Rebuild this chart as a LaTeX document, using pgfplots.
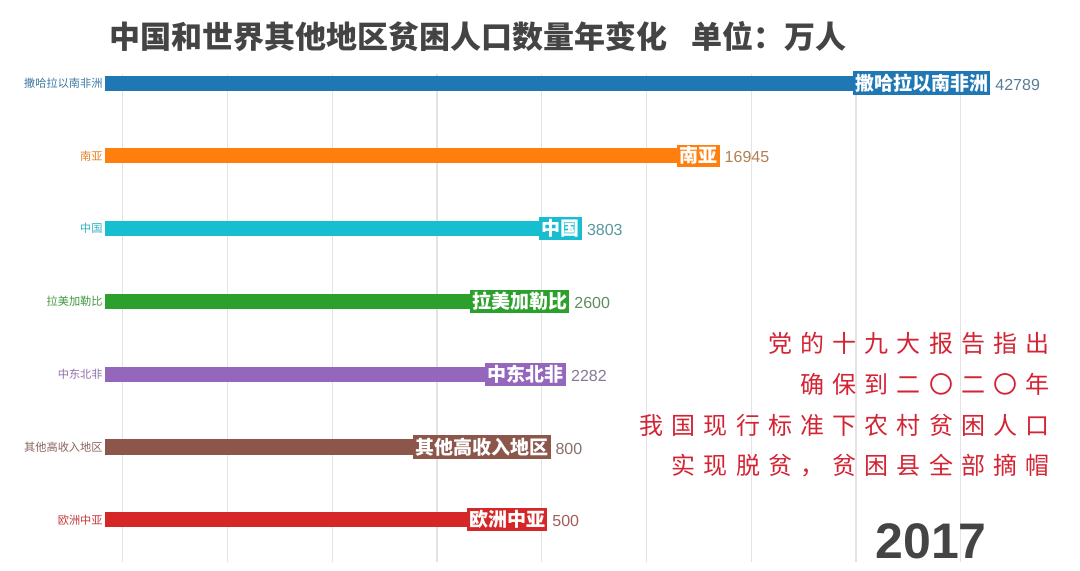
\documentclass[border=0pt]{standalone}
\usepackage{fontspec}
\setmainfont{Noto Sans CJK SC}
\newfontfamily\valfont{Liberation Sans}
\newfontfamily\yearfont{Liberation Sans}
\newfontfamily\redfont{Noto Sans CJK SC}[LetterSpace=34]
\usepackage{pgfplots}
\usepackage{pgfplotstable}
\pgfplotsset{compat=1.18}
\definecolor{cA}{HTML}{1F77B4}
\definecolor{cB}{HTML}{FF7F0E}
\definecolor{cC}{HTML}{17BECF}
\definecolor{cD}{HTML}{2CA02C}
\definecolor{cE}{HTML}{9467BD}
\definecolor{cF}{HTML}{8C564B}
\definecolor{cG}{HTML}{D62728}
\definecolor{redtxt}{RGB}{212,36,52}
\definecolor{titlegray}{HTML}{444444}
\pgfplotstableread{
y v name
0 42789 撒哈拉以南非洲
1 16945 南亚
2 3803 中国
3 2600 拉美加勒比
4 2282 中东北非
5 800 其他高收入地区
6 500 欧洲中亚
}\data
\newcommand\catbar[3]{%
\addplot[xbar, bar width=7.5pt, bar shift=0pt, fill=#3, draw=none,
  restrict y to domain=#1:#2,
  point meta=explicit symbolic,
  visualization depends on={\thisrow{v} \as \rawv},
  nodes near coords={\setlength{\fboxsep}{1.2pt}\llap{\colorbox{#3}{\color{white}\bfseries\fontsize{9.5}{10}\selectfont\pgfplotspointmeta}}\hspace{2.5pt}\textcolor{#3!40!gray}{\valfont\fontsize{8}{9}\selectfont\pgfmathprintnumber[fixed,precision=0,1000 sep={},assume math mode=true]{\rawv}}},
  nodes near coords style={anchor=west, inner sep=0pt}]
  table[x expr=\thisrow{v}+41700, y=y, meta=name]{\data};
}
\begin{document}
\begin{tikzpicture}[x=0.5pt,y=-0.5pt]
\begin{axis}[
  at={(52.5pt,-281pt)}, anchor=south west,
  scale only axis, width=447.5pt, height=243.85pt,
  xmin=0, xmax=85442, ymin=-0.12, ymax=6.58, y dir=reverse,
  clip=false,
  axis line style={draw=none},
  major tick length=0pt,
  xtick={1700,11700,21700,31700,41700,51700,61700,71700,81700},
  xticklabels={},
  xmajorgrids, grid style={draw=black!11, line width=0.6pt},
  ytick={0,1,2,3,4,5,6},
  yticklabels={\textcolor{cA!70!gray}{撒哈拉以南非洲},\textcolor{cB!80!gray}{南亚},\textcolor{cC!80!gray}{中国},\textcolor{cD!75!gray}{拉美加勒比},\textcolor{cE!70!gray}{中东北非},\textcolor{cF!70!gray}{其他高收入地区},\textcolor{cG!80!gray}{欧洲中亚}},
  yticklabel style={font=\fontsize{5.6}{6}\selectfont, inner sep=1pt},
]
\catbar{-0.2}{0.2}{cA}
\catbar{0.8}{1.2}{cB}
\catbar{1.8}{2.2}{cC}
\catbar{2.8}{3.2}{cD}
\catbar{3.8}{4.2}{cE}
\catbar{4.8}{5.2}{cF}
\catbar{5.8}{6.2}{cG}
\end{axis}
\node[anchor=base, text=titlegray, font=\bfseries\fontsize{15.5}{16}\selectfont] at (478,49) {中国和世界其他地区贫困人口数量年变化\hspace{12pt}单位：万人};
\begin{scope}[every node/.style={anchor=base east, inner sep=0pt, text=redtxt, font=\redfont\fontsize{12}{13}\selectfont}]
\node at (1050,352) {党的十九大报告指出};
\node at (1050,393) {确保到二〇二〇年};
\node at (1050,434) {我国现行标准下农村贫困人口};
\node at (1050,474) {实现脱贫，贫困县全部摘帽};
\end{scope}
\node[anchor=base, inner sep=0pt, text=titlegray, font=\yearfont\bfseries\fontsize{25}{26}\selectfont] at (931,558) {2017};
\pgfresetboundingbox
\path[use as bounding box] (0,0) rectangle (1080,571);
\end{tikzpicture}
\end{document}
